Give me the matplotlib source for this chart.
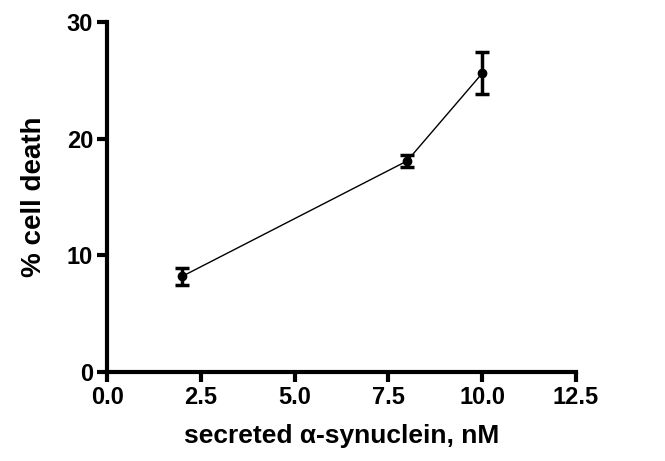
import matplotlib.pyplot as plt
import numpy as np

# data
conc = [2, 8, 10]
death = [8.2, 18.1, 25.6]
sem = [0.7, 0.5, 1.8]

plt.rcParams['font.family'] = ['Liberation Sans', 'DejaVu Sans']
plt.rcParams['font.weight'] = 'bold'
plt.rcParams['axes.labelweight'] = 'bold'

fig = plt.figure(figsize=(6.65, 4.61), dpi=100)
ax = fig.add_axes([0.161, 0.193, 0.705, 0.759])

ax.errorbar(conc, death, yerr=sem, color='black', lw=1, marker='o', ms=6,
            elinewidth=2.5, capsize=5, capthick=2.5)

ax.set_xlim(0, 12.5)
ax.set_ylim(0, 30)
ax.set_xticks(np.arange(0, 12.6, 2.5))
ax.set_xticklabels(['0.0', '2.5', '5.0', '7.5', '10.0', '12.5'])
ax.set_yticks([0, 10, 20, 30])

for s in ['top', 'right']:
    ax.spines[s].set_visible(False)
for s in ['left', 'bottom']:
    ax.spines[s].set_linewidth(3)

ax.tick_params(width=3, length=7, labelsize=17, direction='out', pad=3)
ax.spines['left'].set_bounds(0, 30)
ax.spines['bottom'].set_bounds(0, 12.5)

ax.set_xlabel('secreted \u03b1-synuclein, nM', fontsize=19, labelpad=11)
ax.set_ylabel('% cell death', fontsize=20, labelpad=14)

fig.savefig('out.png', dpi=100)
